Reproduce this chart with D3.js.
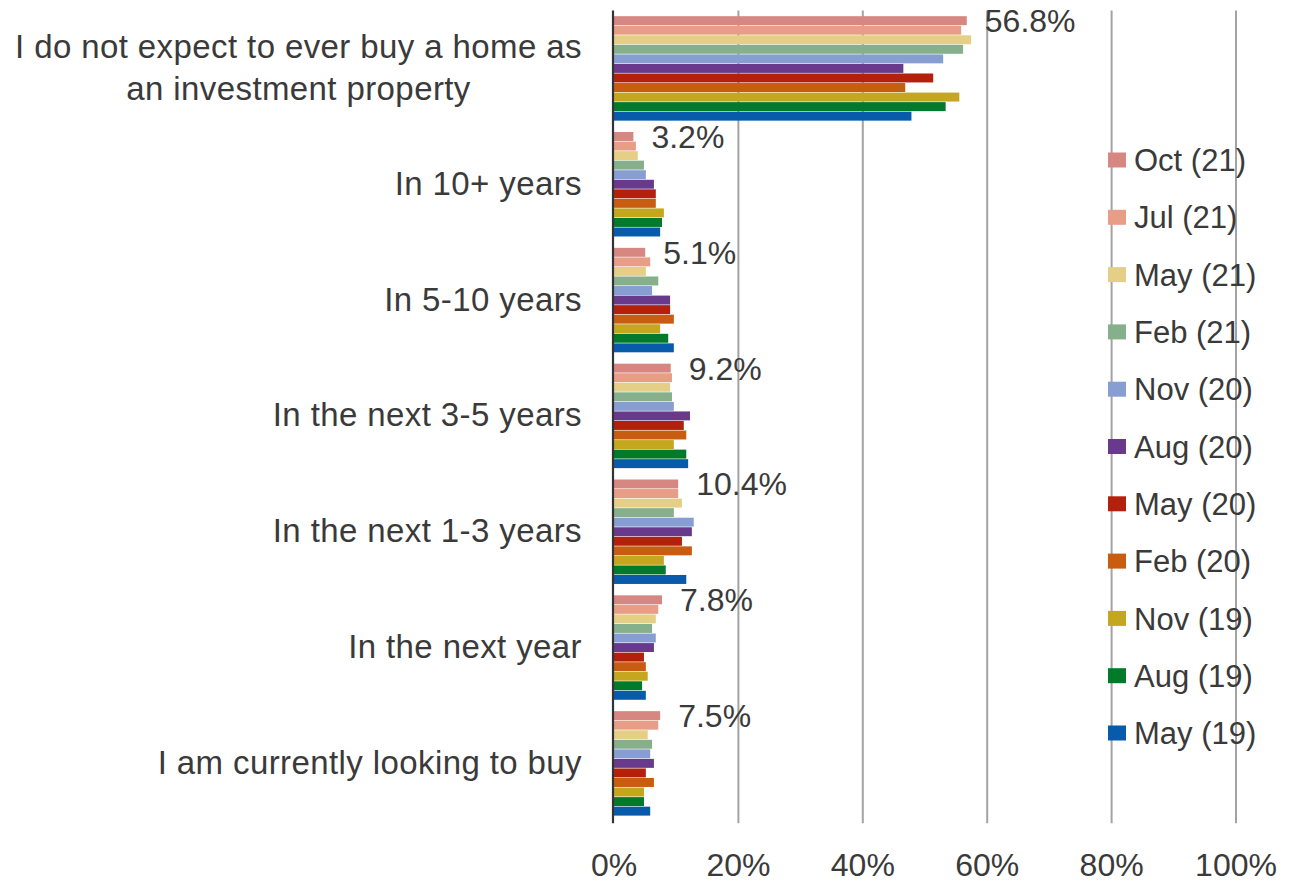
<!DOCTYPE html>
<html>
<head>
<meta charset="utf-8">
<script src="https://cdn.jsdelivr.net/npm/d3@7"></script>
<style>
  html, body { margin: 0; padding: 0; background: #fff; }
  svg text { font-family: "Liberation Sans", Arial, sans-serif; fill: #3a3a3a; }
</style>
</head>
<body>
<svg id="chart" width="1292" height="884"></svg>
<script>
const categories = [
  "I do not expect to ever buy a home as an investment property",
  "In 10+ years",
  "In 5-10 years",
  "In the next 3-5 years",
  "In the next 1-3 years",
  "In the next year",
  "I am currently looking to buy"
];
const seriesNames = ["Oct (21)", "Jul (21)", "May (21)", "Feb (21)", "Nov (20)", "Aug (20)", "May (20)", "Feb (20)", "Nov (19)", "Aug (19)", "May (19)"];
const seriesColors = ["#d78781", "#e89e86", "#e5cf87", "#86af8b", "#879ed3", "#693a8b", "#b3200b", "#c85c11", "#c5a71f", "#017a2a", "#085bab"];
// values per series, in category order
const oct21 = [56.8, 3.2, 5.1, 9.2, 10.4, 7.8, 7.5];
const jul21 = [55.9, 3.6, 5.9, 9.4, 10.4, 7.2, 7.2];
const may21 = [57.5, 3.9, 5.2, 9.1, 11.0, 6.8, 5.5];
const feb21 = [56.2, 4.9, 7.2, 9.4, 9.7, 6.2, 6.2];
const nov20 = [53.0, 5.2, 6.2, 9.7, 12.9, 6.8, 5.9];
const aug20 = [46.6, 6.5, 9.1, 12.3, 12.6, 6.5, 6.5];
const may20 = [51.4, 6.8, 9.1, 11.3, 11.0, 4.9, 5.2];
const feb20 = [46.9, 6.8, 9.7, 11.7, 12.6, 5.2, 6.5];
const nov19 = [55.6, 8.1, 7.5, 9.7, 8.1, 5.5, 4.9];
const aug19 = [53.4, 7.8, 8.8, 11.7, 8.4, 4.6, 4.9];
const may19 = [47.9, 7.5, 9.7, 12.0, 11.7, 5.2, 5.9];
const seriesValues = [oct21, jul21, may21, feb21, nov20, aug20, may20, feb20, nov19, aug19, may19];
const xTicks = [0, 20, 40, 60, 80, 100];

const svg = d3.select("#chart");
const plot = { left: 613.5, right: 1235.5, top: 10.5, bottom: 821.3 };
const FS = 31;
const CAT_FS = 33;

const x = d3.scaleLinear().domain([0, 100]).range([plot.left, plot.right]);
const y0 = d3.scaleBand().domain(categories).range([plot.top, plot.bottom]).paddingInner(0.093).paddingOuter(0.0465);
const y1 = d3.scaleBand().domain(seriesNames).range([0, y0.bandwidth()]).padding(0);

// gridlines
const grid = svg.append("g").attr("transform", `translate(0,${plot.bottom + 2})`)
  .call(d3.axisBottom(x).tickValues(xTicks.slice(1)).tickSize(-(plot.bottom + 2 - plot.top)).tickFormat(""));
grid.select(".domain").remove();
grid.selectAll("line").attr("stroke", "#a3a3a3").attr("stroke-width", 2);

// bars
const rows = categories.map((c, ci) => ({ cat: c, vals: seriesNames.map((s, si) => ({ s, si, v: seriesValues[si][ci] })) }));
const g = svg.append("g");
const cg = g.selectAll("g.cat").data(rows).join("g").attr("class", "cat")
  .attr("transform", d => `translate(0,${y0(d.cat)})`);
cg.selectAll("rect").data(d => d.vals).join("rect")
  .attr("x", x(0))
  .attr("y", d => y1(d.s) + 0.3)
  .attr("width", d => x(d.v) - x(0))
  .attr("height", y1.bandwidth() - 0.6)
  .attr("fill", d => seriesColors[d.si]);

// data labels for first series
cg.append("text")
  .attr("x", d => x(d.vals[0].v) + 18)
  .attr("y", d => y1(seriesNames[0]) + y1.bandwidth() / 2)
  .attr("dy", "0.36em")
  .attr("font-size", 32)
  .text(d => d3.format(".1f")(d.vals[0].v) + "%");

// zero axis line
svg.append("line").attr("x1", x(0) - 0.5).attr("x2", x(0) - 0.5).attr("y1", plot.top).attr("y2", plot.bottom + 2)
  .attr("stroke", "#333").attr("stroke-width", 2.2);

// x tick labels
const xa = svg.append("g").attr("transform", `translate(0,${plot.bottom})`)
  .call(d3.axisBottom(x).tickValues(xTicks).tickSize(0).tickPadding(32).tickFormat(d => d + "%"));
xa.select(".domain").remove();
xa.selectAll("text").attr("font-size", 32).attr("font-family", null).attr("fill", null);

// category labels
const ya = svg.append("g").attr("transform", `translate(582,0)`)
  .call(d3.axisLeft(y0).tickSize(0).tickPadding(0));
ya.select(".domain").remove();
ya.selectAll("text").attr("font-size", CAT_FS).attr("letter-spacing", 0.4).attr("font-family", null).attr("fill", null)
  .each(function () {
    const t = d3.select(this);
    const words = t.text().split(" ");
    t.text(null);
    const maxW = 585;
    let lines = [], line = [];
    const tmp = t.append("tspan");
    words.forEach(w => {
      line.push(w);
      tmp.text(line.join(" "));
      if (tmp.node().getComputedTextLength() > maxW && line.length > 1) {
        line.pop(); lines.push(line.join(" ")); line = [w];
      }
    });
    lines.push(line.join(" "));
    // widest line to centre the block
    let widest = 0;
    lines.forEach(l => { tmp.text(l); widest = Math.max(widest, tmp.node().getComputedTextLength()); });
    tmp.remove();
    const lh = 1.27;
    const y0off = -(lines.length - 1) / 2 * lh;
    const cx = lines.length > 1 ? -widest / 2 : 0;
    if (lines.length > 1) t.attr("text-anchor", "middle");
    lines.forEach((l, i) => {
      t.append("tspan").attr("x", cx).attr("dy", (i === 0 ? y0off + 0.32 : lh) + "em").text(l);
    });
    t.attr("dy", null);
  });

// legend
const leg = svg.append("g");
const legStep = 57.3;
const li = leg.selectAll("g").data(seriesNames).join("g")
  .attr("transform", (d, i) => `translate(1108,${160 + i * legStep})`);
li.append("rect").attr("x", 0).attr("y", -7.5).attr("width", 18).attr("height", 15)
  .attr("fill", (d, i) => seriesColors[i]);
li.append("text").attr("x", 26).attr("dy", "0.36em").attr("font-size", FS).text(d => d);
</script>
</body>
</html>
